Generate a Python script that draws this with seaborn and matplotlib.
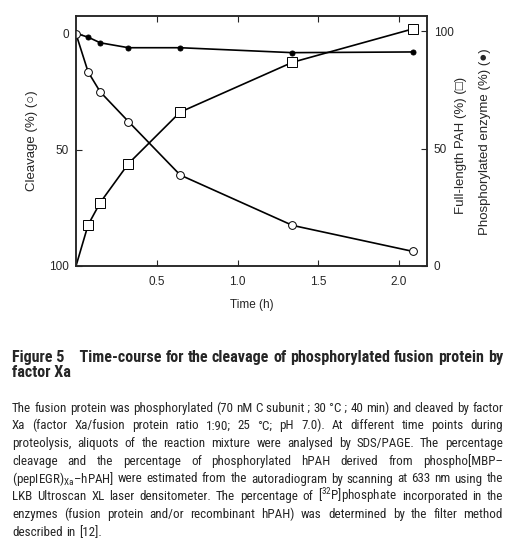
import matplotlib
matplotlib.use("Agg")
import matplotlib.pyplot as plt
import pandas as pd
import seaborn as sb
from matplotlib import font_manager

# time points (h) and the three series
time_h = [0, 0.075, 0.15, 0.325, 0.645, 1.34, 2.085]
cleavage = [0, 16.4, 25.0, 37.8, 60.8, 82.5, 93.7]          # left axis, open circles
full_length = [0, 17.5, 27.0, 43.6, 65.5, 86.7, 100.9]      # right axis, open squares
phospho = [99, 97.4, 95.0, 92.9, 92.9, 90.8, 91.1]          # right axis, filled circles

x_ticks = [0.5, 1.0, 1.5, 2.0]
y_ticks = [0, 50, 100]


def pick(names):
    for n in names:
        try:
            font_manager.findfont(n, fallback_to_default=False)
            return n
        except Exception:
            pass
    return "DejaVu Sans"


sb.set_style("ticks")
chart_font = pick(["Liberation Sans", "Arimo"])
cap_font = pick(["Liberation Sans Narrow", "Roboto Condensed", "Noto Sans Condensed",
                 "Open Sans Condensed", "DejaVu Sans Condensed", "Liberation Sans"])
plt.rcParams["font.family"] = [chart_font, "DejaVu Sans"]
plt.rcParams["mathtext.fontset"] = "custom"
plt.rcParams["mathtext.rm"] = cap_font

W, H = 518, 558
fig = plt.figure(figsize=(W / 100, H / 100), dpi=100)
ax = fig.add_axes([76 / W, 1 - 266 / H, (427 - 76) / W, (266 - 16) / H])
ax2 = ax.twinx()

df = pd.DataFrame({"t": time_h, "cl": cleavage, "fl": full_length, "ph": phospho})

line_kw = dict(color="black", lw=1.2, markeredgecolor="black", markeredgewidth=0.7)
sb.lineplot(data=df, x="t", y="ph", ax=ax2, marker="o", markersize=3.6,
            markerfacecolor="black", markevery=list(range(1, 7)), **line_kw)
sb.lineplot(data=df, x="t", y="fl", ax=ax2, marker="s", markersize=6.6,
            markerfacecolor="white", markevery=list(range(1, 7)), **line_kw)
sb.lineplot(data=df, x="t", y="cl", ax=ax, marker="o", markersize=5.6,
            markerfacecolor="white", **line_kw)

# left axis on top so the open circle sits above the other lines
ax.set_zorder(ax2.get_zorder() + 1)
ax.patch.set_visible(False)

ax.set_xlim(0, 2.173)
ax.set_ylim(100, -7.7)
ax2.set_ylim(0, 106.4)
ax.set_xticks(x_ticks)
ax.set_xticklabels(["0.5", "1.0", "1.5", "2.0"])
ax.set_yticks(y_ticks)
ax2.set_yticks(y_ticks)

for a in (ax, ax2):
    for s in a.spines.values():
        s.set_visible(True)
        s.set_linewidth(1.1)
    a.tick_params(direction="in", length=4, width=0.8, labelsize=8.5, pad=5)
ax.tick_params(axis="x", top=True, pad=7)
ax2.tick_params(axis="y", right=True, left=False)

ax.set_xlabel("Time (h)", fontsize=8.5, labelpad=8)
ax.set_ylabel("Cleavage (%) (○)", fontsize=9.5, labelpad=8)
ax2.set_ylabel("")
fig.text(461 / W, 1 - 145 / H, "Full-length PAH (%) (□)", rotation=90,
         ha="center", va="center", fontsize=9.5)
fig.text(485 / W, 1 - 142 / H, "Phosphorylated enzyme (%) (●)", rotation=90,
         ha="center", va="center", fontsize=9.5)

# caption, justified like the printed page
x0, x1 = 12, 503
renderer = fig.canvas.get_renderer()


def put_line(y_px, text, size, weight="normal", justify=True):
    words = text.split(" ")
    arts = [fig.text(0, 1 - y_px / H, w, fontsize=size, weight=weight,
                     family=[cap_font, "DejaVu Sans"], va="baseline", ha="left")
            for w in words]
    widths = [a.get_window_extent(renderer).width for a in arts]
    if justify and len(words) > 1:
        gap = (x1 - x0 - sum(widths)) / (len(words) - 1)
    else:
        gap = size * 0.28 * 100 / 72
    x = x0
    for a, w in zip(arts, widths):
        a.set_x(x / W)
        x += w + gap
    return arts


def fit_size(lines, size, weight):
    # shrink until the widest line fits with a small word gap to spare
    while size > 5:
        ok = True
        for ln in lines:
            t = fig.text(0, 0, ln.replace(" ", "\u00a0"), fontsize=size, weight=weight,
                         family=[cap_font, "DejaVu Sans"])
            w = t.get_window_extent(renderer).width
            t.remove()
            if w > (x1 - x0):
                ok = False
                break
        if ok:
            return size
        size -= 0.1
    return size


title_lines = ["Figure\u00a05\u00a0\u00a0\u00a0\u00a0Time-course for the cleavage of phosphorylated fusion protein by",
               "factor\u00a0Xa"]
body_lines = [
    "The fusion protein was phosphorylated (70 nM C subunit\u00a0; 30 °C\u00a0; 40 min) and cleaved by factor",
    "Xa (factor Xa/fusion protein ratio 1:90; 25 °C; pH 7.0). At different time points during",
    "proteolysis, aliquots of the reaction mixture were analysed by SDS/PAGE. The percentage",
    "cleavage and the percentage of phosphorylated hPAH derived from phospho[MBP–",
    "(pepIEGR)$_{\\mathrm{Xa}}$–hPAH] were estimated from the autoradiogram by scanning at 633 nm using the",
    "LKB Ultroscan XL laser densitometer. The percentage of [$^{32}$P]phosphate incorporated in the",
    "enzymes (fusion protein and/or recombinant hPAH) was determined by the filter method",
    "described in [12].",
]

ts = fit_size(title_lines[:1], 11.7, "bold")
put_line(362, title_lines[0], ts, "bold")
put_line(377, title_lines[1], ts, "bold", justify=False)

bs = fit_size(body_lines, 10.5, "normal")
for i, ln in enumerate(body_lines):
    put_line(411.7 + i * 17.7, ln, bs, justify=(i < len(body_lines) - 1))

fig.savefig("out.png", dpi=100)
